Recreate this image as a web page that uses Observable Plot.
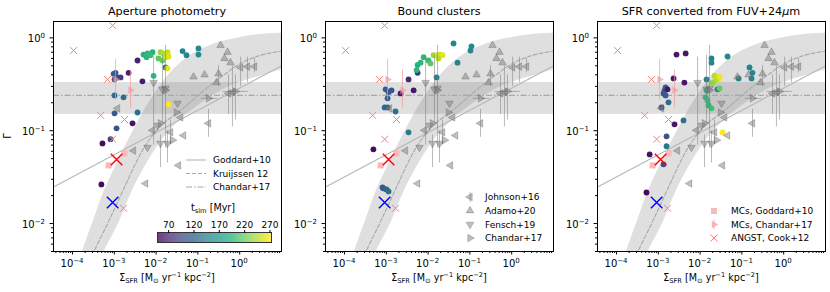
<!DOCTYPE html>
<html><head><meta charset="utf-8">
<script src="https://cdn.jsdelivr.net/npm/d3@7"></script>
<script src="https://cdn.jsdelivr.net/npm/@observablehq/plot@0.6"></script>
<style>
body{margin:0;background:#fff;font-family:"DejaVu Sans",sans-serif;}
#wrap{position:relative;width:830px;height:292px;overflow:hidden;}
#wrap > svg{position:absolute;top:0;}
</style></head><body><div id="wrap"></div>
<script>
// ---------- axes ----------
const xDomain = [3.5e-5, 10];
const yDomain = [0.005, 1.5];
const tDomain = [48, 273];
const xTicks = [1e-4, 1e-3, 1e-2, 1e-1, 1];
const xTickExp = ["−4", "−3", "−2", "−1", "0"];
const yTicks = [1e-2, 1e-1, 1];
const yTickExp = ["−2", "−1", "0"];
const colorbarTicks = [70, 120, 170, 220, 270];
const panelTitles = ["Aperture photometry", "Bound clusters", "SFR converted from FUV+24"];

// ---------- models ----------
const goddardSigma = [3.5e-5, 10];
const goddardGamma = [0.0247, 0.50];
const kruijssenSigma = [1.9e-4, 3.24e-4, 6.9e-4, 1.2e-3, 5.6e-3, 0.0152, 0.039, 0.117, 0.354, 1.07, 3.2, 10, 16];
const kruijssenGamma = [0.0031, 0.00503, 0.01, 0.017, 0.0698, 0.12, 0.166, 0.254, 0.377, 0.533, 0.65, 0.72, 0.74];
const kBandUpSigma = [1.25e-4, 1.73e-4, 3.0e-4, 5.8e-4, 1.26e-3, 2.88e-3, 7.3e-3, 0.0221, 0.0665, 0.264, 1.05, 3.15, 16];
const kBandUpGamma = [0.0031, 0.005, 0.01, 0.0227, 0.0479, 0.101, 0.212, 0.42, 0.65, 0.87, 1.01, 1.09, 1.13];
const kBandLoSigma = [3.96e-4, 5.8e-4, 1.26e-3, 2.72e-3, 6.6e-3, 0.0168, 0.0505, 0.152, 0.457, 1.38, 4.14, 10, 16];
const kBandLoGamma = [0.0031, 0.005, 0.01, 0.0227, 0.0479, 0.089, 0.146, 0.212, 0.286, 0.348, 0.40, 0.45, 0.46];
const chandarBand = [0.15, 0.33];
const chandarMid = [0.24];

// ---------- observations [sigma, gamma, errLo, errHi, xErrLo, xErrHi] ----------
const johnson16 = [[1.05,0.48,0.30,0.62],[1.54,0.49,0.33,0.62],[2.26,0.49,0.42,0.60],[0.67,0.259,0.11,0.50],[0.54,0.252,0.15,0.40],
  [0.179,0.12,0.085,0.17],[0.0453,0.089,null,null],[0.0384,0.139,null,null],[8.2e-3,0.101,null,null],[1.19e-3,0.174,null,null],
  [2.88e-3,0.061,null,null],[0.0344,0.0423,null,null],[5.6e-3,0.027,null,null],[0.0221,0.096,0.07,0.13]];
const adamo20 = [[0.348,0.83,null,null],[0.511,0.70,null,null],[0.433,0.60,null,null],[0.60,0.54,null,null],[0.0785,0.38,null,null],
  [0.144,0.40,null,null],[0.311,0.41,0.30,0.50],[0.279,0.33,null,null]];
const fensch19 = [[8.7e-3,0.33,0.07,0.62],[0.0142,0.279,0.12,0.65],[0.0168,0.286,0.065,0.83],[0.0325,0.197,null,null],[6.2e-3,0.066,null,null],
  [0.0127,0.073,0.04,0.09],[0.0187,0.073,0.045,0.1],[0.0108,0.114,null,null]];
const chandar17 = [[0.179,0.223,null,null,0.12,0.30],[0.79,0.265,0.13,0.40,0.40,1.6],[0.0127,0.12,null,null],[0.0168,0.272,null,null],[0.0247,0.079,null,null],[0.0308,0.157,null,null]];
const mcGoddard10 = [[1.75e-3,0.057],[7.3e-4,0.0423]];
const mcChandar17 = [[1.07e-3,0.357,0.212,0.59],[2.44e-3,0.272,0.174,0.45]];
const angstCook12 = [[9.1e-4,1.36],[1.06e-4,0.73],[6.9e-4,0.357],[4.7e-4,0.146],[1.75e-3,0.132],[9.1e-4,0.081],[1.66e-3,0.0146]];
const redCross = [[1.13e-3,0.049]];
const blueCross = [[9.1e-4,0.0169]];

// ---------- simulation [sigma, gamma, t_sim Myr] ----------
const apertureSim = [[5.2e-4,0.073,55],[8.1e-4,0.081,95],[1.13e-3,0.106,105],[2.72e-3,0.12,60],[1.01e-3,0.154,110],[3.59e-3,0.157,135],
  [1.01e-3,0.24,125],[1.66e-3,0.229,130],[9.6e-4,0.41,110],[1.07e-3,0.42,112],[1.19e-3,0.375,105],[1.41e-3,0.375,90],[1.01e-3,0.357,108],
  [2.19e-3,0.42,70],[4.7e-3,0.34,65],[3.59e-3,0.57,68],[8.7e-3,0.39,195],[5.0e-3,0.66,190],[6.2e-3,0.68,195],[8.2e-3,0.70,190],
  [5.9e-3,0.62,195],[7.3e-3,0.65,200],[0.0114,0.60,215],[0.0142,0.57,220],[0.0127,0.70,240],[0.015,0.68,245],[0.0187,0.70,255],
  [0.0168,0.62,250],[0.0198,0.63,262],[0.0168,0.48,140],[0.0187,0.47,265],[0.0198,0.192,272],[0.0429,0.72,150],[0.0533,0.65,150],
  [0.103,0.77,155],[0.103,0.66,155],[4.9e-4,0.0264,55]];
const boundSim = [[4.9e-4,0.063,55],[3.4e-3,0.096,140],[1.66e-3,0.161,130],[9.1e-4,0.178,120],[1.07e-3,0.178,122],[1.07e-3,0.223,112],
  [1.13e-3,0.259,110],[9.6e-4,0.279,110],[1.33e-3,0.272,105],[2.19e-3,0.252,65],[4.5e-3,0.272,62],[3.4e-3,0.357,75],[5.6e-3,0.42,85],
  [5.3e-3,0.45,195],[5.6e-3,0.51,190],[6.6e-3,0.54,195],[7.8e-3,0.62,195],[0.0102,0.57,200],[0.0114,0.53,215],[0.0135,0.65,240],
  [0.0168,0.65,255],[0.0198,0.66,262],[0.0221,0.65,265],[0.0177,0.60,250],[0.0159,0.375,140],[0.0406,0.87,150],[0.0505,0.54,148],
  [0.103,0.73,152],[0.109,0.81,155],[8.1e-4,0.0245,110],[8.6e-4,0.0239,112],[1.01e-3,0.0233,118],[1.13e-3,0.0222,130]];
const fuvSim = [[2.72e-3,0.66,62],[4.5e-3,0.68,62],[2.31e-3,0.366,65],[4.2e-3,0.33,62],[1.49e-3,0.293,110],[1.41e-3,0.272,110],
  [1.33e-3,0.252,105],[1.49e-3,0.24,112],[1.66e-3,0.279,62],[1.75e-3,0.202,125],[1.19e-3,0.178,115],[4.0e-3,0.129,135],[2.44e-3,0.117,62],
  [1.57e-3,0.087,105],[1.57e-3,0.068,140],[0.0187,0.60,150],[0.0187,0.54,150],[0.0142,0.357,145],[0.0453,0.63,155],[0.0221,0.39,245],
  [0.0247,0.375,255],[0.0275,0.366,262],[0.0234,0.348,250],[0.0198,0.33,235],[0.0291,0.38,268],[0.026,0.279,145],[0.0291,0.286,220],
  [0.0142,0.272,195],[0.0135,0.229,195],[0.015,0.212,200],[0.0159,0.187,195],[0.0187,0.174,205],[0.0344,0.096,272],[0.152,0.48,150],
  [0.179,0.42,152],[0.083,0.366,145],[0.17,0.366,150],[6.2e-4,0.0555,60],[1.33e-3,0.0434,100],[5.2e-4,0.0216,55]];

// ---------- helpers ----------
const minor = (lo, hi) => { const out = []; for (let e = -6; e <= 2; e++) for (let m = 2; m <= 9; m++) { const v = m * 10 ** e; if (v >= lo && v <= hi) out.push(v); } return out; };
const xMinor = minor(xDomain[0], xDomain[1]);
const yMinor = minor(yDomain[0], yDomain[1]);
const idx = (a) => a.map((_, i) => i);
const obsGroups = [[johnson16, -90], [adamo20, 0], [fensch19, 180], [chandar17, 90]];
const GREY = "#808080";
const PINK = "#f59a9a";

function panel(sim, k) {
  const all = obsGroups.flatMap(([g]) => g);
  const errs = all.filter(d => d[2] != null);
  const xerrs = all.filter(d => d[4] != null);
  const marks = [
    Plot.area(idx(kBandUpSigma), {x1: i => kBandUpSigma[i], y1: i => kBandUpGamma[i], x2: i => kBandLoSigma[i], y2: i => kBandLoGamma[i], fill: GREY, fillOpacity: 0.25, curve: "catmull-rom", clip: true}),
    Plot.rect([chandarBand], {y1: d => d[0], y2: d => d[1], fill: GREY, fillOpacity: 0.25}),
    Plot.ruleY(chandarMid, {stroke: "#a8a8a8", strokeWidth: 1.1, strokeDasharray: "6,2,1.5,2"}),
    Plot.line(idx(goddardSigma), {x: i => goddardSigma[i], y: i => goddardGamma[i], stroke: "#b5b5b5", strokeWidth: 1.1, clip: true}),
    Plot.line(idx(kruijssenSigma), {x: i => kruijssenSigma[i], y: i => kruijssenGamma[i], stroke: "#a8a8a8", strokeWidth: 1.1, strokeDasharray: "4,2", curve: "catmull-rom", clip: true}),
    Plot.dot(sim, {x: d => d[0], y: d => d[1], fill: d => d[2], r: 2.9}),
    Plot.ruleX(errs, {x: d => d[0], y1: d => d[2], y2: d => d[3], stroke: GREY, strokeOpacity: 0.55, strokeWidth: 1}),
    Plot.ruleY(xerrs, {y: d => d[1], x1: d => d[4], x2: d => d[5], stroke: GREY, strokeOpacity: 0.55, strokeWidth: 1}),
    ...obsGroups.map(([g, rot]) => Plot.dot(g, {x: d => d[0], y: d => d[1], symbol: "triangle", rotate: rot, r: 2.8, fill: GREY, fillOpacity: 0.5, stroke: "#555", strokeOpacity: 0.45, strokeWidth: 0.7})),
    Plot.ruleX(mcChandar17, {x: d => d[0], y1: d => d[2], y2: d => d[3], stroke: PINK, strokeOpacity: 0.7}),
    Plot.dot(mcChandar17, {x: d => d[0], y: d => d[1], symbol: "triangle", rotate: 90, r: 2.8, fill: PINK, fillOpacity: 0.7}),
    Plot.dot(mcGoddard10, {x: d => d[0], y: d => d[1], symbol: "square", r: 3.4, fill: "#f7b8b8"}),
    Plot.dot(angstCook12, {x: d => d[0], y: d => d[1], symbol: "times", r: 3.2, stroke: "#ff7a7a", strokeWidth: 1}),
    Plot.dot(redCross, {x: d => d[0], y: d => d[1], symbol: "times", r: 5.3, stroke: "red", strokeWidth: 1.4}),
    Plot.dot(blueCross, {x: d => d[0], y: d => d[1], symbol: "times", r: 5.3, stroke: "blue", strokeWidth: 1.4}),
    Plot.frame({stroke: "black", strokeWidth: 1}),
    Plot.axisX({ticks: xMinor, tickFormat: () => "", tickSize: 2, label: null}),
    Plot.axisX({ticks: xTicks, tickFormat: () => "", tickSize: 3.5, label: null}),
    Plot.axisY({ticks: yMinor, tickFormat: () => "", tickSize: 2, label: null}),
    Plot.axisY({ticks: yTicks, tickFormat: () => "", tickSize: 3.5, label: null})
  ];
  const svg = Plot.plot({
    width: 286, height: 292, marginLeft: 53, marginRight: 5, marginTop: 21, marginBottom: 41,
    style: {fontFamily: "DejaVu Sans", fontSize: "9px", background: "transparent", overflow: "visible", color: "black"},
    x: {type: "log", domain: xDomain},
    y: {type: "log", domain: yDomain},
    color: {type: "linear", scheme: "viridis", domain: tDomain},
    marks
  });
  const s = d3.select(svg);
  const xs = svg.scale("x"), ys = svg.scale("y");
  // tick labels (mathtext-like 10^n), positioned with the plot's own scales
  const tl = s.append("g").attr("font-size", 10).attr("fill", "black");
  xTicks.forEach((v, i) => {
    const t = tl.append("text").attr("x", xs.apply(v)).attr("y", 267).attr("text-anchor", "middle");
    t.append("tspan").text("10"); t.append("tspan").attr("font-size", 7).attr("dy", -4).text(xTickExp[i]);
  });
  yTicks.forEach((v, i) => {
    const t = tl.append("text").attr("x", 45).attr("y", ys.apply(v) + 5).attr("text-anchor", "end");
    t.append("tspan").text("10"); t.append("tspan").attr("font-size", 7).attr("dy", -4).text(yTickExp[i]);
  });
  const cx = 53 + 114;
  const t = s.append("text").attr("x", cx).attr("y", 15).attr("text-anchor", "middle").attr("font-size", 11.2).attr("fill", "black").text(panelTitles[k]);
  if (k === 2) { t.append("tspan").attr("font-style", "italic").text("μ"); t.append("tspan").text("m"); }
  const xl = s.append("text").attr("x", cx).attr("y", 281).attr("text-anchor", "middle").attr("font-size", 9.6).attr("fill", "black");
  const parts = [["Σ", 0, 9.6], ["SFR", 2, 6.7], [" [M", -2, 9.6], ["⊙", 2, 6.7], [" yr", -2, 9.6], ["−1", -3.8, 6.7], [" kpc", 3.8, 9.6], ["−2", -3.8, 6.7], ["]", 3.8, 9.6]];
  parts.forEach(([txt, dy, fs]) => xl.append("tspan").attr("dy", dy).attr("font-size", fs).text(txt));
  return svg;
}

const wrap = document.getElementById("wrap");
const lefts = [0, 272, 544];
const sims = [apertureSim, boundSim, fuvSim];
const svgs = sims.map((sim, k) => { const svg = panel(sim, k); svg.style.left = lefts[k] + "px"; wrap.appendChild(svg); return svg; });

// y label
d3.select(svgs[0]).append("text").attr("transform", "translate(11,136) rotate(-90)").attr("text-anchor", "middle").attr("font-size", 10).attr("fill", "black").text("Γ");

// panel 1 legend (lines)
{
  const g = d3.select(svgs[0]).append("g").attr("font-size", 9).attr("fill", "black").attr("text-anchor", "start");
  const rows = [["Goddard+10", null, "#b5b5b5"], ["Kruijssen 12", "4,2", "#a8a8a8"], ["Chandar+17", "6,2,1.5,2", "#a8a8a8"]];
  rows.forEach(([lab, dash, col], i) => {
    const y = 160 + i * 13.5;
    g.append("line").attr("x1", 186).attr("x2", 206).attr("y1", y).attr("y2", y).attr("stroke", col).attr("stroke-width", 1.1).attr("stroke-dasharray", dash);
    g.append("text").attr("x", 213).attr("y", y).attr("dy", "0.35em").text(lab);
  });
  const tt = g.append("text").attr("x", 213).attr("y", 211).attr("text-anchor", "middle").attr("font-size", 9.6);
  tt.append("tspan").text("t"); tt.append("tspan").attr("font-size", 6.7).attr("dy", 2).text("sim"); tt.append("tspan").attr("dy", -2).text(" [Myr]");
}

// colorbar
{
  const cbSteps = d3.range(tDomain[0], tDomain[1], 1);
  const cb = Plot.plot({
    width: 134, height: 26, marginLeft: 10, marginRight: 10, marginTop: 16, marginBottom: 0,
    style: {fontFamily: "DejaVu Sans", fontSize: "9px", background: "transparent", overflow: "visible", color: "black"},
    x: {domain: tDomain}, y: {axis: null},
    color: {type: "linear", scheme: "viridis", domain: tDomain},
    marks: [
      Plot.rect(cbSteps, {x1: d => d, x2: d => Math.min(d + 1.05, tDomain[1]), fill: d => d + 0.5}),
      Plot.frame({stroke: "#333", strokeWidth: 1}),
      Plot.axisX({anchor: "top", ticks: colorbarTicks, tickSize: 3, tickPadding: 2, label: null})
    ]
  });
  cb.style.left = "147px"; cb.style.top = "216px";
  wrap.appendChild(cb);
}

// panel 2 legend (observations)
{
  const g = d3.select(svgs[1]).append("g").attr("font-size", 9).attr("fill", "black").attr("text-anchor", "start");
  const rows = [["Johnson+16", -90], ["Adamo+20", 0], ["Fensch+19", 180], ["Chandar+17", 90]];
  const tri = d3.symbol(d3.symbolTriangle, Math.PI * 2.8 * 2.8)();
  rows.forEach(([lab, rot], i) => {
    const y = 197 + i * 13.7;
    if (i === 0) g.append("line").attr("x1", 198).attr("x2", 198).attr("y1", y - 5).attr("y2", y + 5).attr("stroke", GREY).attr("stroke-opacity", 0.55);
    g.append("path").attr("d", tri).attr("transform", `translate(198,${y}) rotate(${rot})`).attr("fill", GREY).attr("fill-opacity", 0.5).attr("stroke", "#555").attr("stroke-opacity", 0.45).attr("stroke-width", 0.7);
    g.append("text").attr("x", 213).attr("y", y).attr("dy", "0.35em").text(lab);
  });
}

// panel 3 legend (MCs / ANGST)
{
  const g = d3.select(svgs[2]).append("g").attr("font-size", 9).attr("fill", "black").attr("text-anchor", "start");
  const y0 = 211;
  g.append("path").attr("d", d3.symbol(d3.symbolSquare, Math.PI * 3.4 * 3.4)()).attr("transform", `translate(170,${y0})`).attr("fill", "#f7b8b8");
  g.append("text").attr("x", 187).attr("y", y0).attr("dy", "0.35em").text("MCs, Goddard+10");
  const y1 = y0 + 13.5;
  g.append("line").attr("x1", 170).attr("x2", 170).attr("y1", y1 - 5).attr("y2", y1 + 5).attr("stroke", PINK).attr("stroke-opacity", 0.7);
  g.append("path").attr("d", d3.symbol(d3.symbolTriangle, Math.PI * 2.8 * 2.8)()).attr("transform", `translate(170,${y1}) rotate(90)`).attr("fill", PINK).attr("fill-opacity", 0.7);
  g.append("text").attr("x", 187).attr("y", y1).attr("dy", "0.35em").text("MCs, Chandar+17");
  const y2 = y0 + 27;
  g.append("path").attr("d", d3.symbol(d3.symbolTimes, Math.PI * 3.2 * 3.2)()).attr("transform", `translate(170,${y2})`).attr("fill", "none").attr("stroke", "#ff7a7a");
  g.append("text").attr("x", 187).attr("y", y2).attr("dy", "0.35em").text("ANGST, Cook+12");
}
</script></body></html>
